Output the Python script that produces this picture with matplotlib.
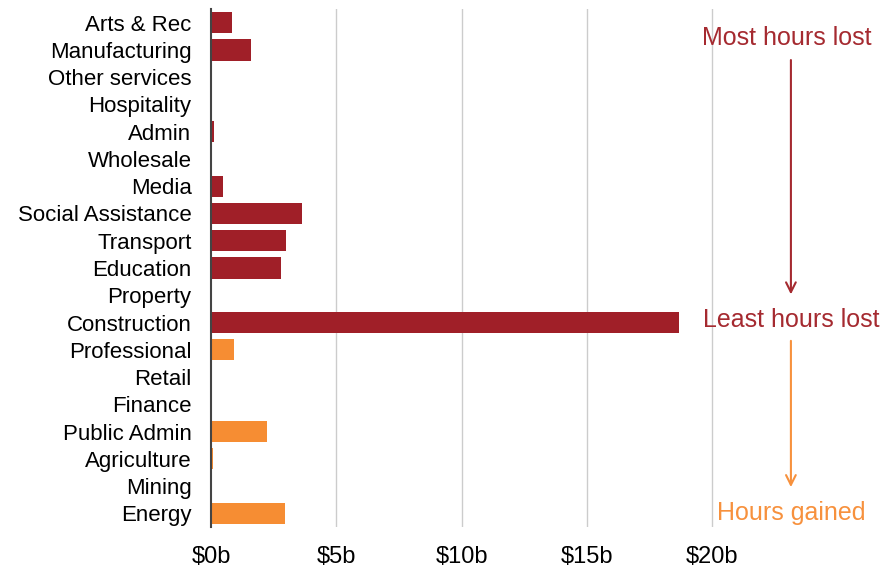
"""Industry bars: value by sector, ordered from most hours lost to hours gained."""
import matplotlib
matplotlib.use("Agg")
import matplotlib.pyplot as plt
import numpy as np

industries = ["Arts & Rec", "Manufacturing", "Other services", "Hospitality",
              "Admin", "Wholesale", "Media", "Social Assistance", "Transport",
              "Education", "Property", "Construction", "Professional", "Retail",
              "Finance", "Public Admin", "Agriculture", "Mining", "Energy"]
values_b = [0.83, 1.58, 0.0, 0.0, 0.11, 0.0, 0.48, 3.62, 3.01, 2.78, 0.0,
            18.68, 0.92, 0.0, 0.0, 2.25, 0.07, 0.0, 2.97]
hours_lost = [True] * 12 + [False] * 7
x_ticks = [0, 5, 10, 15, 20]
x_labels = ["$0b", "$5b", "$10b", "$15b", "$20b"]

RED, ORANGE = "#A01F28", "#F68D33"
plt.rcParams["font.family"] = ["Liberation Sans", "DejaVu Sans"]

fig = plt.figure(figsize=(8.81, 5.68), dpi=100)
ax = fig.add_axes([211 / 881, 1 - 527 / 568, 670 / 881, 518 / 568])

y = np.arange(len(industries))
colors = [RED if lost else ORANGE for lost in hours_lost]
ax.barh(y, values_b, height=0.78, color=colors, zorder=3)

ax.set_ylim(len(industries) - 0.5, -0.5)
ax.set_xlim(0, 670 / 25.05)
ax.set_yticks(y, industries, fontsize=16)
ax.set_xticks(x_ticks, x_labels, fontsize=17)
ax.tick_params(axis="y", length=0, pad=14)
ax.tick_params(axis="x", length=0, pad=14)
for v in x_ticks[1:]:
    ax.axvline(v, color="#cccccc", linewidth=1, zorder=1)
for side in ["top", "right", "bottom"]:
    ax.spines[side].set_visible(False)
ax.spines["left"].set_color("#444444")
ax.spines["left"].set_linewidth(1.5)
ax.spines["left"].set_zorder(4)

xa = 23.15
ax.text(23.0, 0.58, "Most hours lost", color="#A52A30", fontsize=18,
        ha="center", va="center")
ax.text(xa, 10.9, "Least hours lost", color="#A52A30", fontsize=18,
        ha="center", va="center")
ax.text(xa, 17.98, "Hours gained", color="#F7913D", fontsize=18,
        ha="center", va="center")
arrow = "->,head_length=0.7,head_width=0.35"
ax.annotate("", xy=(xa, 10.07), xytext=(xa, 1.27),
            arrowprops=dict(arrowstyle=arrow, color="#A52A30", lw=1.5))
ax.annotate("", xy=(xa, 17.14), xytext=(xa, 11.57),
            arrowprops=dict(arrowstyle=arrow, color="#F7913D", lw=1.5))

fig.savefig("out.png", dpi=100)
